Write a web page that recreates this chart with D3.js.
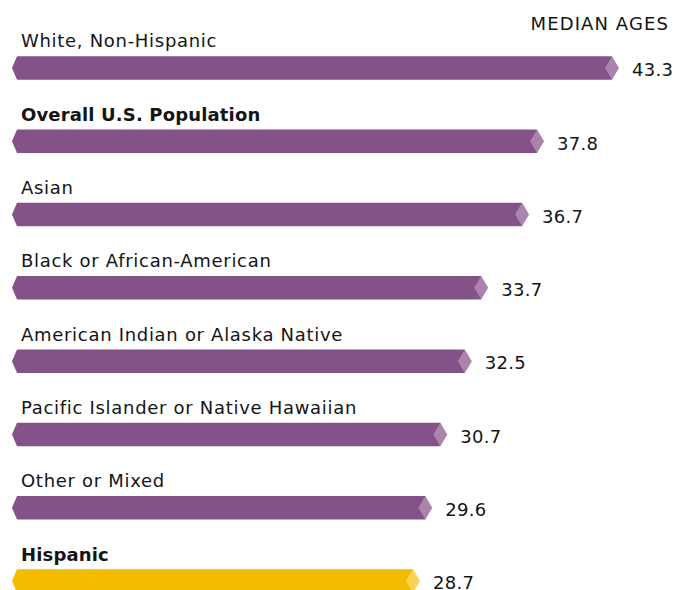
<!DOCTYPE html>
<html><head><meta charset="utf-8">
<script src="https://cdn.jsdelivr.net/npm/d3@7"></script>
<style>
html,body{margin:0;padding:0;background:#fff;}
svg{display:block;}
text{font-family:"DejaVu Sans",sans-serif;fill:#141414;}
</style></head>
<body>
<script>
const categories = ["White, Non-Hispanic","Overall U.S. Population","Asian","Black or African-American","American Indian or Alaska Native","Pacific Islander or Native Hawaiian","Other or Mixed","Hispanic"];
const medianAges = [43.3,37.8,36.7,33.7,32.5,30.7,29.6,28.7];
const boldFlags = [false,true,false,false,false,false,false,true];
const highlight = [false,false,false,false,false,false,false,true];
const title = "MEDIAN AGES";

const W=685,H=590;
const svg=d3.select("body").append("svg").attr("width",W).attr("height",H);

const x=d3.scaleLinear().domain([0,43.3]).range([29,619]);
const y=d3.scaleBand().domain(categories).range([31.35,617.65]).paddingInner(0).paddingOuter(0);
const half=11.75, arrowL=12, arrowD=5, dia=7;

svg.append("text").attr("x",669).attr("y",30).attr("text-anchor","end")
  .style("font-size","18px").style("letter-spacing","1.1px").text(title);

const rows=svg.selectAll("g.row").data(categories).join("g").attr("class","row")
  .attr("transform",c=>`translate(0,${y(c)+y.bandwidth()/2})`);

rows.append("path")
  .attr("d",(c,i)=>{const t=x(medianAges[i]);
    return `M${arrowL},0L${arrowL+arrowD},${-half}L${t-dia},${-half}L${t-dia},${half}L${arrowL+arrowD},${half}Z`;})
  .attr("fill",(c,i)=>highlight[i]?"#f2bd00":"#835289");

rows.append("path")
  .attr("d",(c,i)=>{const t=x(medianAges[i]);
    return `M${t-2*dia},0L${t-dia},${-half}L${t},0L${t-dia},${half}Z`;})
  .attr("fill",(c,i)=>highlight[i]?"#f8d35a":"#aa84ad");

rows.append("text").attr("x",21).attr("y",-20.5)
  .style("font-size","18px")
  .style("letter-spacing",(c,i)=>boldFlags[i]?"0.15px":"0.7px")
  .style("font-weight",(c,i)=>boldFlags[i]?"bold":"normal")
  .text(c=>c);

rows.append("text").attr("x",(c,i)=>x(medianAges[i])+13).attr("y",8.3)
  .style("font-size","18px").style("letter-spacing","0.3px")
  .text((c,i)=>d3.format(".1f")(medianAges[i]));
</script>
</body></html>
